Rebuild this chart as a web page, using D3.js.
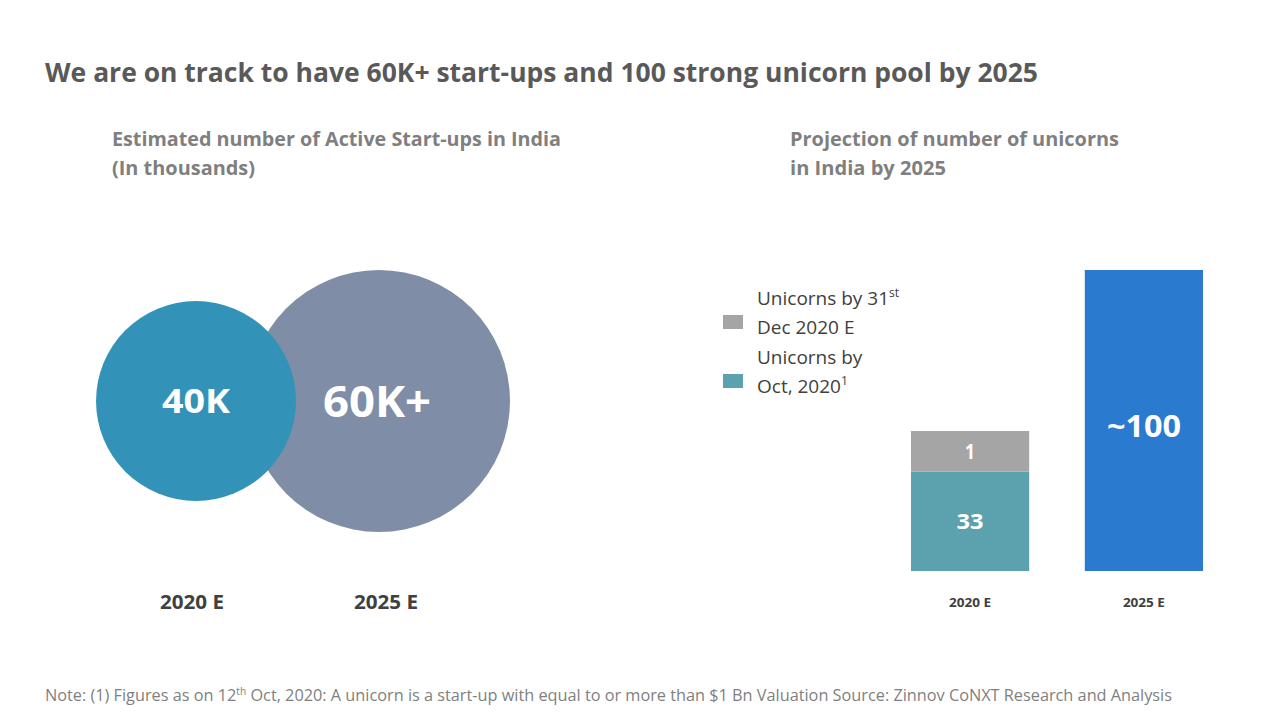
<!DOCTYPE html>
<html>
<head>
<meta charset="utf-8">
<script src="https://cdn.jsdelivr.net/npm/d3@7"></script>
<style>
  html, body { margin: 0; padding: 0; background: #fff; }
  svg { display: block; font-family: "Open Sans", "Noto Sans", sans-serif; }
</style>
</head>
<body>
<svg id="chart" width="1280" height="720"></svg>
<script>
// ---------- data ----------
const titleText = "We are on track to have 60K+ start-ups and 100 strong unicorn pool by 2025";
const leftSubtitle = ["Estimated number of Active Start-ups in India", "(In thousands)"];
const rightSubtitle = ["Projection of number of unicorns", "in India by 2025"];

// Bubble chart: active start-ups (thousands)
const bubbleYears = ["2020 E", "2025 E"];
const bubbleValues = [40, 60];
const bubbleLabels = ["40K", "60K+"];

// Stacked bars: unicorns
const barYears = ["2020 E", "2025 E"];
const unicornsOct2020 = [33, 0];     // teal
const unicornsDec2020 = [13.5, 0];   // grey (segment height as drawn)
const unicorns2025 = [0, 100];       // blue
const labelsOct2020 = ["33", ""];
const labelsDec2020 = ["1", ""];
const labels2025 = ["", "~100"];
const legendItems = [
  { key: "dec", lines: ["Unicorns by 31", "Dec 2020 E"], sup: "st" },
  { key: "oct", lines: ["Unicorns by", "Oct, 2020"], sup: "1" }
];
const footnote = ["Note: (1) Figures as on 12", "th", " Oct, 2020: A unicorn is a start-up with equal to or more than $1 Bn Valuation  Source: Zinnov CoNXT Research and Analysis"];

// ---------- setup ----------
const svg = d3.select("#chart");
const colors = { dec: "#A5A5A5", oct: "#5BA2AE", y2025: "#2A7BD0" };
const bubbleColors = ["#3392B8", "#7F8EA6"];

// Title
svg.append("text")
  .attr("x", 45).attr("y", 82)
  .attr("font-size", 27).attr("font-weight", 700).attr("fill", "#595959")
  .attr("textLength", 993).attr("lengthAdjust", "spacingAndGlyphs")
  .text(titleText);

// Subtitles
const subW = [[449, 143], [329, 156]];
[[112, leftSubtitle], [790, rightSubtitle]].forEach(([x, lines], si) => {
  lines.forEach((l, i) => {
    svg.append("text")
      .attr("x", x).attr("y", 146 + i * 29)
      .attr("font-size", 20).attr("font-weight", 700).attr("fill", "#7F7F7F")
      .attr("textLength", subW[si][i]).attr("lengthAdjust", "spacingAndGlyphs")
      .text(l);
  });
});

// ---------- bubbles ----------
const rScale = d3.scalePow().exponent(0.667).domain([0, 60]).range([0, 131]);
const xBubble = d3.scaleOrdinal().domain(bubbleYears).range([196, 377]);
const cy = 401;
const bubbles = bubbleYears.map((y, i) => ({ year: y, v: bubbleValues[i], label: bubbleLabels[i], c: bubbleColors[i] }));
// draw larger first so small one sits on top
svg.append("g").selectAll("circle")
  .data(bubbles.slice().sort((a, b) => b.v - a.v))
  .join("circle")
  .attr("cx", d => xBubble(d.year) + (d.v === 60 ? 2 : 0))
  .attr("cy", cy)
  .attr("r", d => rScale(d.v))
  .attr("fill", d => d.c);

svg.append("g").selectAll("text")
  .data(bubbles)
  .join("text")
  .attr("x", d => xBubble(d.year))
  .attr("y", d => cy + (d.v === 60 ? 16 : 12))
  .attr("text-anchor", "middle")
  .attr("font-weight", 700)
  .attr("font-size", d => d.v === 60 ? 43 : 34)
  .attr("fill", "#fff")
  .attr("textLength", d => d.v === 60 ? 108 : 68)
  .attr("lengthAdjust", "spacingAndGlyphs")
  .text(d => d.label);

svg.append("g").selectAll("text")
  .data(bubbles)
  .join("text")
  .attr("x", (d, i) => [192, 386][i])
  .attr("y", 609)
  .attr("text-anchor", "middle")
  .attr("font-weight", 700).attr("font-size", 20).attr("fill", "#404040")
  .attr("textLength", 64).attr("lengthAdjust", "spacingAndGlyphs")
  .text(d => d.year);

// ---------- stacked bars ----------
const xBar = d3.scaleBand().domain(barYears).range([911, 1203]).paddingInner(0.32).paddingOuter(0);
const yBar = d3.scaleLinear().domain([0, 100]).range([571, 270]);
const rows = barYears.map((y, i) => ({ year: y, oct: unicornsOct2020[i], dec: unicornsDec2020[i], y2025: unicorns2025[i] }));
const labelMap = { oct: labelsOct2020, dec: labelsDec2020, y2025: labels2025 };
const stack = d3.stack().keys(["oct", "dec", "y2025"]);
const series = stack(rows);

const gBars = svg.append("g");
series.forEach(s => {
  gBars.selectAll(null)
    .data(s.map((d, i) => ({ d, i, key: s.key })))
    .join("rect")
    .filter(o => o.d[1] - o.d[0] > 0)
    .attr("x", o => xBar(barYears[o.i]))
    .attr("width", xBar.bandwidth())
    .attr("y", o => yBar(o.d[1]))
    .attr("height", o => yBar(o.d[0]) - yBar(o.d[1]))
    .attr("fill", colors[s.key]);
  gBars.selectAll(null)
    .data(s.map((d, i) => ({ d, i, key: s.key })).filter(o => labelMap[s.key][o.i]))
    .join("text")
    .attr("x", o => xBar(barYears[o.i]) + xBar.bandwidth() / 2)
    .attr("y", o => (yBar(o.d[0]) + yBar(o.d[1])) / 2 + (s.key === "y2025" ? 16 : 8))
    .attr("text-anchor", "middle")
    .attr("font-weight", 700)
    .attr("font-size", s.key === "y2025" ? 31 : 21)
    .attr("fill", "#fff")
    .attr("textLength", s.key === "y2025" ? 74 : (s.key === "oct" ? 27 : 10))
    .attr("lengthAdjust", "spacingAndGlyphs")
    .text(o => labelMap[s.key][o.i]);
});

svg.append("g").selectAll("text")
  .data(barYears)
  .join("text")
  .attr("x", d => xBar(d) + xBar.bandwidth() / 2)
  .attr("y", 607)
  .attr("text-anchor", "middle")
  .attr("font-weight", 700).attr("font-size", 13).attr("fill", "#404040")
  .attr("textLength", 42).attr("lengthAdjust", "spacingAndGlyphs")
  .text(d => d);

// legend
const legend = svg.append("g");
legendItems.forEach((item, i) => {
  const y0 = 305 + i * 59;
  legend.append("rect")
    .attr("x", 723).attr("y", y0 + 10).attr("width", 20).attr("height", 14)
    .attr("fill", colors[item.key]);
  item.lines.forEach((l, j) => {
    const t = legend.append("text")
      .attr("x", 757).attr("y", y0 + j * 29)
      .attr("font-size", 19).attr("fill", "#404040");
    t.append("tspan").text(l);
    if (j === 0 && i === 0) {
      t.append("tspan").attr("font-size", 12).attr("dy", -8).text(item.sup);
    }
    if (j === 1 && i === 1) {
      t.append("tspan").attr("font-size", 12).attr("dy", -8).text(item.sup);
    }
  });
});

// footnote
const fn = svg.append("text")
  .attr("x", 45).attr("y", 701)
  .attr("font-size", 16).attr("fill", "#7F7F7F")
  .attr("textLength", 1127).attr("lengthAdjust", "spacingAndGlyphs");
fn.append("tspan").text(footnote[0]);
fn.append("tspan").attr("font-size", 10).attr("dy", -6).text(footnote[1]);
fn.append("tspan").attr("dy", 6).text(footnote[2]);
</script>
</body>
</html>
